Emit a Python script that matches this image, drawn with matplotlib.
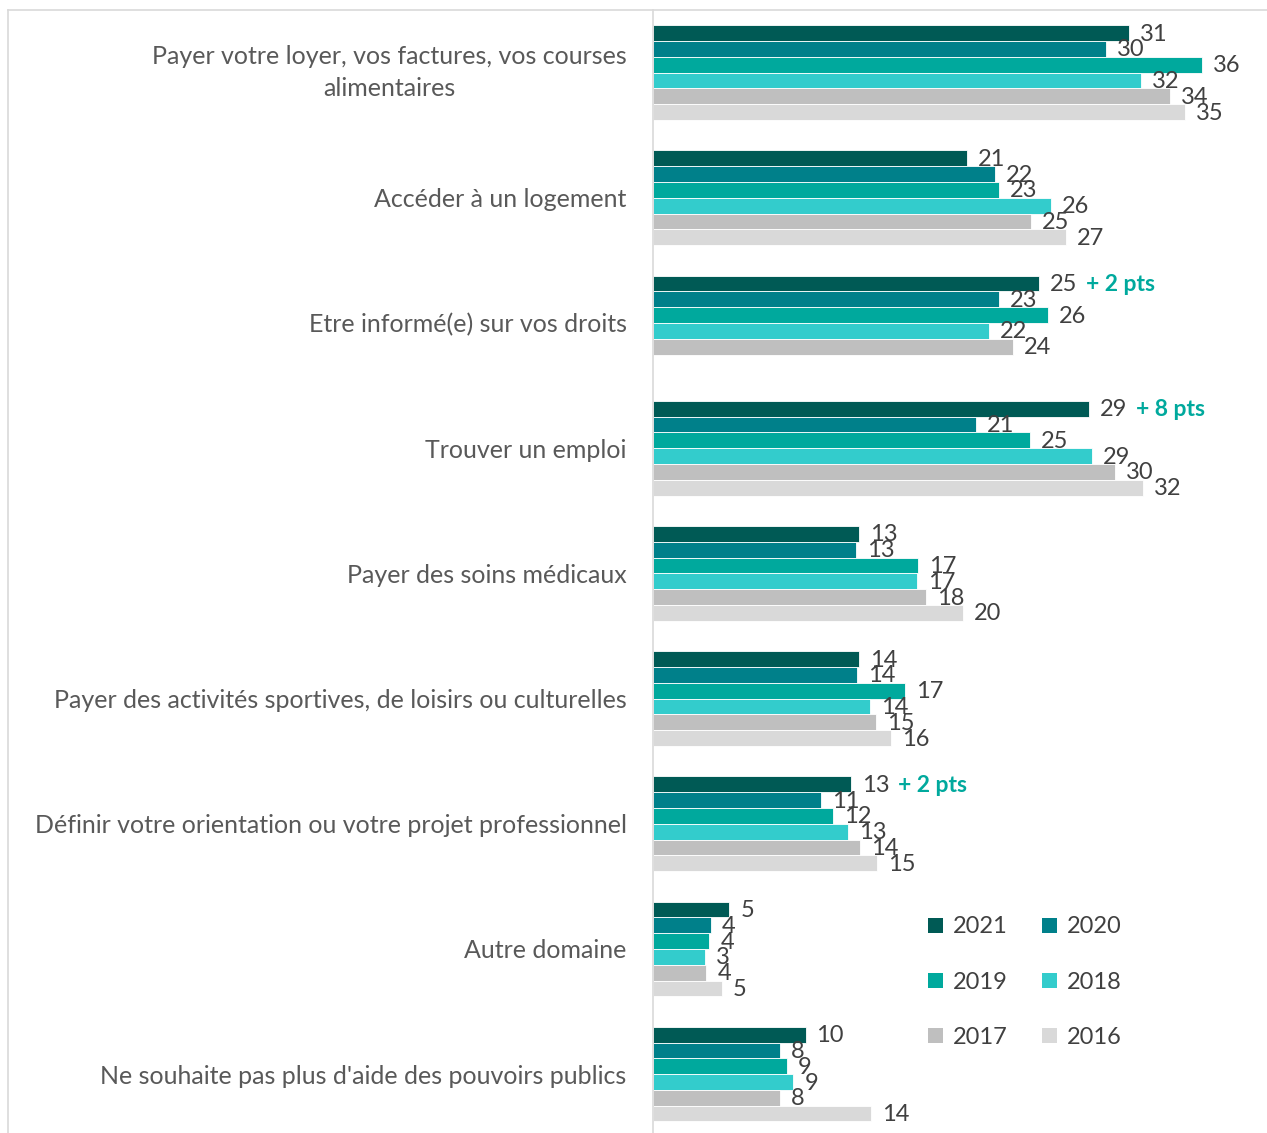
import matplotlib
matplotlib.use("Agg")
import matplotlib.pyplot as plt
import numpy as np
from matplotlib.lines import Line2D
from matplotlib.patches import Patch

plt.rcParams['font.family'] = ['Lato', 'DejaVu Sans']

categories = [
    "Payer votre loyer, vos factures, vos courses\nalimentaires",
    "Accéder à un logement",
    "Etre informé(e) sur vos droits",
    "Trouver un emploi",
    "Payer des soins médicaux",
    "Payer des activités sportives, de loisirs ou culturelles",
    "Définir votre orientation ou votre projet professionnel",
    "Autre domaine",
    "Ne souhaite pas plus d'aide des pouvoirs publics",
]
years = ["2021", "2020", "2019", "2018", "2017", "2016"]
v2021 = [31.2, 20.6, 25.3, 28.6, 13.5, 13.5, 13.0, 5.0, 10.0]
v2020 = [29.7, 22.4, 22.7, 21.2, 13.3, 13.4, 11.0, 3.8, 8.3]
v2019 = [36.0, 22.7, 25.9, 24.7, 17.4, 16.5, 11.8, 3.7, 8.8]
v2018 = [32.0, 26.1, 22.0, 28.8, 17.3, 14.2, 12.8, 3.4, 9.2]
v2017 = [33.9, 24.8, 23.6, 30.3, 17.9, 14.6, 13.6, 3.5, 8.3]
v2016 = [34.9, 27.1, np.nan, 32.1, 20.3, 15.6, 14.7, 4.5, 14.3]
l2021 = [31, 21, 25, 29, 13, 14, 13, 5, 10]
l2020 = [30, 22, 23, 21, 13, 14, 11, 4, 8]
l2019 = [36, 23, 26, 25, 17, 17, 12, 4, 9]
l2018 = [32, 26, 22, 29, 17, 14, 13, 3, 9]
l2017 = [34, 25, 24, 30, 18, 15, 14, 4, 8]
l2016 = [35, 27, None, 32, 20, 16, 15, 5, 14]
annotations = {2: "+ 2 pts", 3: "+ 8 pts", 6: "+ 2 pts"}

series = [v2021, v2020, v2019, v2018, v2017, v2016]
labels = [l2021, l2020, l2019, l2018, l2017, l2016]
colors = ["#005A55", "#00808A", "#00A99D", "#33CCCC", "#BFBFBF", "#D9D9D9"]

W, H = 1267, 1133
fig = plt.figure(figsize=(W / 100, H / 100), dpi=100)
ax = fig.add_axes([653 / W, 0, 608 / W, (H - 10) / H])

bh = 0.126
y = np.arange(len(categories))
for j, (vals, labs, c) in enumerate(zip(series, labels, colors)):
    yy = y + (j - 2.5) * bh
    ax.barh(yy, vals, height=bh, color=c, edgecolor="white", linewidth=0.6)
    for k, (v, lab) in enumerate(zip(vals, labs)):
        if lab is None or np.isnan(v):
            continue
        ax.annotate(str(lab), xy=(v, yy[k]), xytext=(11, -1), textcoords="offset pixels",
                    ha="left", va="center", fontsize=17, color="#404040")
        if j == 0 and k in annotations:
            ax.annotate(annotations[k], xy=(v, yy[k]), xytext=(47, -1), textcoords="offset pixels",
                        ha="left", va="center", fontsize=16.5, color="#00A99D", fontweight="bold")

ax.set_xlim(0, 608 / 15.25)
ax.set_ylim(8.47, -0.5)
ax.set_yticks(y)
ax.set_yticklabels(categories, fontsize=18, color="#595959", linespacing=1.5)
for i, t in enumerate(ax.get_yticklabels()):
    t.set_multialignment("center")
    if "\n" in categories[i]:
        t.set_verticalalignment("center")
ax.tick_params(axis="y", length=0, pad=19)
ax.set_xticks([])
for s in ["top", "right", "bottom"]:
    ax.spines[s].set_visible(False)
ax.spines["left"].set_color("#D9D9D9")
ax.spines["left"].set_linewidth(1.2)

order = [0, 2, 4, 1, 3, 5]
handles = [Patch(facecolor=colors[i], label=years[i]) for i in order]
leg = ax.legend(handles=handles, ncol=2, loc="upper left",
                bbox_to_anchor=((919 - 653) / 608, 1 - (907 - 10) / (H - 10)),
                frameon=False, fontsize=17, handlelength=0.6, handleheight=0.6,
                handletextpad=0.45, labelspacing=1.45, columnspacing=1.45,
                labelcolor="#404040", borderaxespad=0)

bc = "#D9D9D9"
fig.add_artist(Line2D([8 / W, 1], [1 - 10 / H, 1 - 10 / H], color=bc, lw=1.2, transform=fig.transFigure))
fig.add_artist(Line2D([8 / W, 8 / W], [0, 1 - 10 / H], color=bc, lw=1.2, transform=fig.transFigure))

fig.savefig("out.png", dpi=100)
